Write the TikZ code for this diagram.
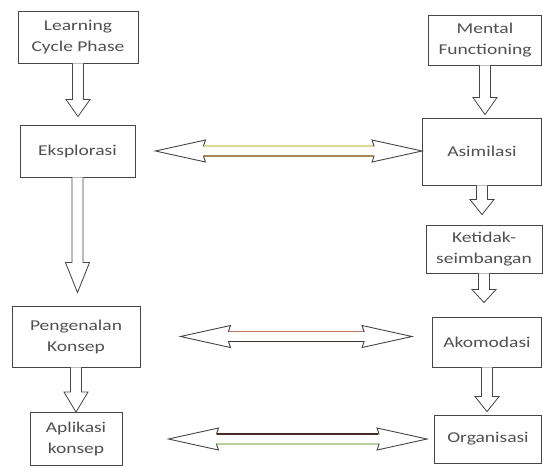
\documentclass[tikz,border=0pt]{standalone}
\usepackage{fontspec}
\setmainfont{Carlito}[FakeStretch=1.3]
\usetikzlibrary{calc}
\definecolor{TextGray}{RGB}{80,80,80}
\definecolor{EdgeGray}{RGB}{70,70,70}
\definecolor{PaleGold}{RGB}{225,215,150}
\definecolor{DarkGold}{RGB}{170,135,80}
\definecolor{RoseRed}{RGB}{205,120,105}
\definecolor{DarkBrown}{RGB}{70,45,35}
\definecolor{PaleGreen}{RGB}{185,210,160}
\tikzset{
    phase/.style={draw=EdgeGray, line width=0.9pt, fill=white, align=center, inner sep=0pt, text=TextGray, font=\fontsize{15}{21}\selectfont},
    blockarr/.style={draw=EdgeGray, line width=0.8pt, fill=white},
    duoarr/.style={draw=EdgeGray, line width=0.9pt, fill=white},
}
% hollow block arrow downwards: [head length]{from}{to}{gap}
\newcommand\downarr[4][17]{%
  \draw[blockarr] let \p1=(#2.south), \p2=(#3.north) in
    (\x1-5.5pt,\y1) -- (\x1-5.5pt,\y2+#4pt+#1pt) -- (\x1-12pt,\y2+#4pt+#1pt)
    -- (\x1,\y2+#4pt) -- (\x1+12pt,\y2+#4pt+#1pt) -- (\x1+5.5pt,\y2+#4pt+#1pt)
    -- (\x1+5.5pt,\y1);
}
% hollow double arrow: {left}{right}{left gap}{right gap}{upper edge}{lower edge}
\newcommand\duoarr[6]{%
  \path let \p1=(#1.east), \p2=(#2.west) in
    coordinate (duoL) at (\x1+#3pt,\y1) coordinate (duoR) at (\x2-#4pt,\y1);
  \draw[duoarr] (duoL) -- ($(duoL)+(50,-11)$) -- ($(duoL)+(48,-5)$)
    -- ($(duoR)+(-48,-5)$) -- ($(duoR)+(-50,-11)$) -- (duoR)
    -- ($(duoR)+(-50,11)$) -- ($(duoR)+(-48,5)$) -- ($(duoL)+(48,5)$)
    -- ($(duoL)+(50,11)$) -- cycle;
  \draw[#5, line width=1.3pt] ($(duoL)+(49,-5)$) -- ($(duoR)+(-49,-5)$);
  \draw[#6, line width=1.3pt] ($(duoL)+(49,5)$) -- ($(duoR)+(-49,5)$);
}
\begin{document}
\begin{tikzpicture}[x=1pt, y=-1pt]
\useasboundingbox (0,0) rectangle (543,467);
\fill[white] (0,0) rectangle (543,467);

% learning cycle
\node[phase, minimum width=120, minimum height=52] (lcp) at (78,37) {Learning\\Cycle Phase};
\node[phase, minimum width=115, minimum height=52] (eks) at (77.5,151) {Eksplorasi};
\node[phase, minimum width=128, minimum height=61] (pk) at (76,336.5) {Pengenalan\\Konsep};
\node[phase, minimum width=92, minimum height=53] (ak) at (76,439) {Aplikasi\\konsep};

% mental functioning
\node[phase, minimum width=113, minimum height=50] (mf) at (485,40) {Mental\\Functioning};
\node[phase, minimum width=119, minimum height=67] (asi) at (482,151.5) {Asimilasi};
\node[phase, minimum width=116, minimum height=48] (ks) at (484,249) {Ketidak-\\seimbangan};
\node[phase, minimum width=109, minimum height=50] (ako) at (487,342) {Akomodasi};
\node[phase, minimum width=107, minimum height=48] (org) at (488,439) {Organisasi};

\downarr{lcp}{eks}{8}
\downarr[30]{eks}{pk}{13}
\downarr[20]{pk}{ak}{0}
\downarr{mf}{asi}{3}
\downarr[15]{asi}{ks}{10}
\downarr[13]{ks}{ako}{14}
\downarr[15]{ako}{org}{3}

\duoarr{eks}{asi}{20}{0}{PaleGold}{DarkGold}
\duoarr{pk}{ako}{40}{20}{RoseRed}{DarkBrown}
\duoarr{ak}{org}{46}{7}{DarkBrown}{PaleGreen}
\end{tikzpicture}
\end{document}
